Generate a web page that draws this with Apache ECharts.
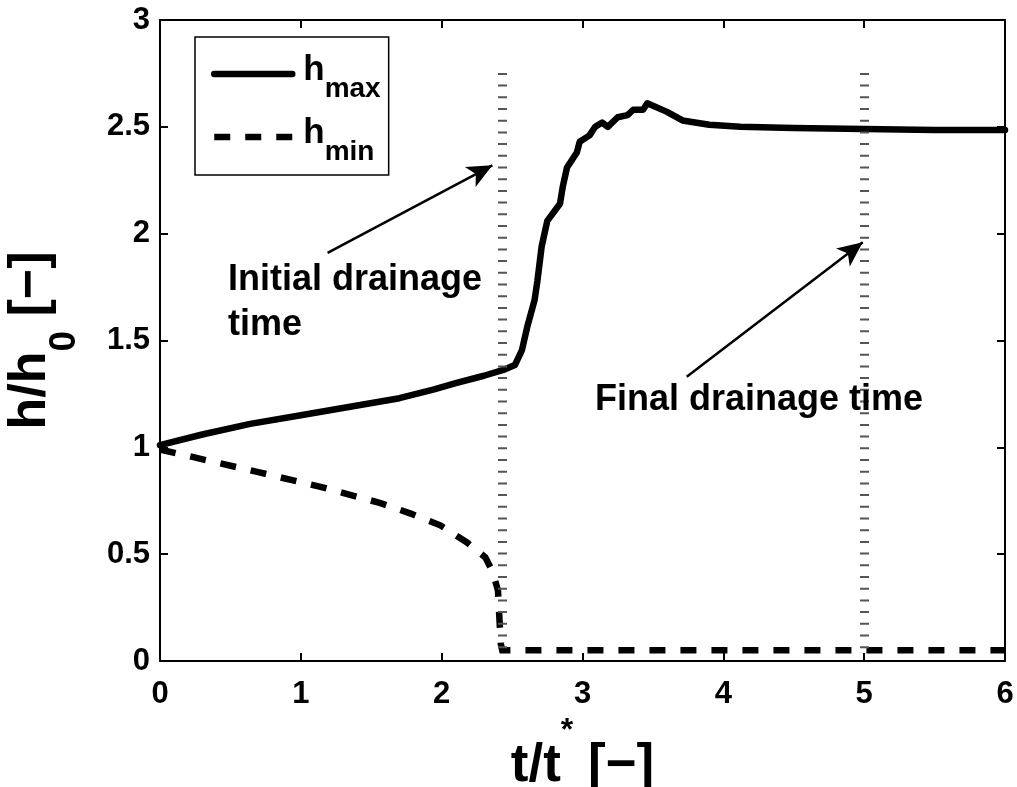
<!DOCTYPE html>
<html>
<head>
<meta charset="utf-8">
<script src="https://cdn.jsdelivr.net/npm/echarts@6/dist/echarts.min.js"></script>
<style>
html,body{margin:0;padding:0;background:#fff;}
#chart{width:1017px;height:787px;}
</style>
</head>
<body>
<div id="chart"></div>
<script>
// ---- data ----
const hmaxT = [0, 0.3, 0.64, 1.0, 1.35, 1.7, 1.94, 2.1, 2.3, 2.45, 2.52, 2.57, 2.61, 2.66, 2.68, 2.71, 2.75, 2.84, 2.86, 2.89, 2.96, 2.98, 3.05, 3.09, 3.14, 3.18, 3.25, 3.32, 3.36, 3.43, 3.46, 3.6, 3.71, 3.9, 4.12, 4.5, 5.0, 5.5, 6.0];
const hmaxV = [1.01, 1.06, 1.11, 1.15, 1.19, 1.23, 1.27, 1.30, 1.335, 1.365, 1.385, 1.455, 1.57, 1.69, 1.78, 1.94, 2.06, 2.14, 2.22, 2.31, 2.38, 2.43, 2.46, 2.50, 2.52, 2.50, 2.545, 2.555, 2.58, 2.58, 2.61, 2.57, 2.53, 2.51, 2.50, 2.495, 2.49, 2.485, 2.485];
const hminT = [0, 0.23, 0.69, 1.14, 1.56, 1.78, 1.99, 2.18, 2.31, 2.36, 2.40, 2.41, 2.42, 2.43, 3.0, 4.0, 5.0, 6.0];
const hminV = [0.99, 0.955, 0.885, 0.815, 0.74, 0.69, 0.635, 0.555, 0.485, 0.42, 0.33, 0.2, 0.08, 0.05, 0.05, 0.05, 0.05, 0.05];
const drainageTimes = [2.43, 5.0];
const drainageLineRange = [0.06, 2.78];
const arrowInitial = [[1.19, 1.91], [2.36, 2.32]];
const arrowFinal = [[3.74, 1.33], [4.99, 1.96]];
const xTicks = [0, 1, 2, 3, 4, 5, 6];
const yTicks = [0, 0.5, 1, 1.5, 2, 2.5, 3];

const FONT = '"Liberation Sans", Arial, Helvetica, sans-serif';
const hmaxData = hmaxT.map((t, i) => [t, hmaxV[i]]);
const hminData = hminT.map((t, i) => [t, hminV[i]]);

const chart = echarts.init(document.getElementById('chart'), null, {renderer: 'canvas'});

const axisCommon = {
  type: 'value',
  axisLine: {show: true, onZero: false, lineStyle: {color: '#000', width: 2}},
  axisTick: {show: true, inside: true, length: 8, lineStyle: {color: '#000', width: 2}},
  splitLine: {show: false},
};

const option = {
  backgroundColor: '#fff',
  animation: false,
  grid: {left: 160, right: 12, top: 20, bottom: 126, containLabel: false, outerBoundsMode: 'none'},
  legend: {
    orient: 'vertical',
    left: 195, top: 37,
    padding: [8, 8, 9, 16],
    itemGap: 5,
    itemWidth: 78,
    itemHeight: 2,
    borderColor: '#000', borderWidth: 1.5, backgroundColor: '#fff',
    selectedMode: false,
    itemStyle: {opacity: 0},
    lineStyle: {width: 6.5},
    data: ['hmax', 'hmin'],
    formatter: function (name) { return '{h|h}{s|' + name.slice(1) + '}'; },
    textStyle: {
      color: '#000', fontFamily: FONT, fontWeight: 'bold',
      rich: {
        h: {fontSize: 35, fontWeight: 'bold', fontFamily: FONT, color: '#000', verticalAlign: 'top', lineHeight: 58, padding: [8, 0, 0, 6]},
        s: {fontSize: 28, fontWeight: 'bold', fontFamily: FONT, color: '#000', verticalAlign: 'bottom', lineHeight: 28}
      }
    }
  },
  xAxis: [
    Object.assign({}, axisCommon, {
      position: 'bottom', min: 0, max: 6, interval: 1,
      axisLabel: {color: '#000', fontSize: 31, fontWeight: 'bold', fontFamily: FONT, margin: 18},
      name: '{a|t/t}{s|*}{a| [\u2212]}',
      nameLocation: 'middle', nameGap: 31,
      nameTextStyle: {
        color: '#000', fontFamily: FONT, fontWeight: 'bold',
        rich: {
          a: {fontSize: 53, fontWeight: 'bold', fontFamily: FONT, color: '#000', verticalAlign: 'middle', lineHeight: 110},
          s: {fontSize: 32, fontWeight: 'bold', fontFamily: FONT, color: '#000', verticalAlign: 'middle', lineHeight: 32, padding: [0, 0, 70, 0]}
        }
      }
    }),
    Object.assign({}, axisCommon, {
      position: 'top', min: 0, max: 6, interval: 1, axisLabel: {show: false}
    })
  ],
  yAxis: [
    Object.assign({}, axisCommon, {
      position: 'left', min: 0, max: 3, interval: 0.5,
      axisLabel: {color: '#000', fontSize: 31, fontWeight: 'bold', fontFamily: FONT, margin: 10},
      name: '{a|h/h}{s|0}{a| [\u2212]}',
      nameLocation: 'middle', nameGap: 77, nameRotate: 90,
      nameTextStyle: {
        color: '#000', fontFamily: FONT, fontWeight: 'bold',
        rich: {
          a: {fontSize: 52, fontWeight: 'bold', fontFamily: FONT, color: '#000', verticalAlign: 'top', lineHeight: 78},
          s: {fontSize: 37, fontWeight: 'bold', fontFamily: FONT, color: '#000', verticalAlign: 'bottom', lineHeight: 37}
        }
      }
    }),
    Object.assign({}, axisCommon, {
      position: 'right', min: 0, max: 3, interval: 0.5, axisLabel: {show: false}
    })
  ],
  series: [
    {
      name: 'hmax', type: 'line', data: hmaxData, showSymbol: false, symbol: 'none',
      lineStyle: {color: '#000', width: 6.5, type: 'solid', join: 'round', cap: 'round'},
      itemStyle: {color: '#000'},
      z: 3,
      markLine: {
        silent: true, animation: false,
        symbol: ['none', 'arrow'], symbolSize: [17, 25],
        label: {show: false},
        lineStyle: {color: '#000', width: 2.5, type: 'solid'},
        data: [
          [{coord: arrowInitial[0]}, {coord: arrowInitial[1]}],
          [{coord: arrowFinal[0]}, {coord: arrowFinal[1]}]
        ]
      }
    },
    {
      name: 'hmin', type: 'line', data: hminData, showSymbol: false, symbol: 'none',
      lineStyle: {color: '#000', width: 6.5, type: [16, 15], join: 'miter', cap: 'butt'},
      itemStyle: {color: '#000'},
      z: 3,
      markLine: {
        silent: true, animation: false,
        symbol: ['none', 'none'],
        label: {show: false},
        lineStyle: {color: '#555', width: 9, type: [2, 9.7]},
        data: drainageTimes.map(t => [{coord: [t, drainageLineRange[0]]}, {coord: [t, drainageLineRange[1]]}])
      }
    }
  ],
  graphic: [
    {type: 'text', left: 228, top: 258, z: 10,
      style: {text: 'Initial drainage\ntime', font: 'bold 36px ' + FONT, fill: '#000', lineHeight: 45}},
    {type: 'text', left: 595, top: 382, z: 10,
      style: {text: 'Final drainage time', font: 'bold 36px ' + FONT, fill: '#000'}}
  ]
};

chart.setOption(option);
</script>
</body>
</html>
